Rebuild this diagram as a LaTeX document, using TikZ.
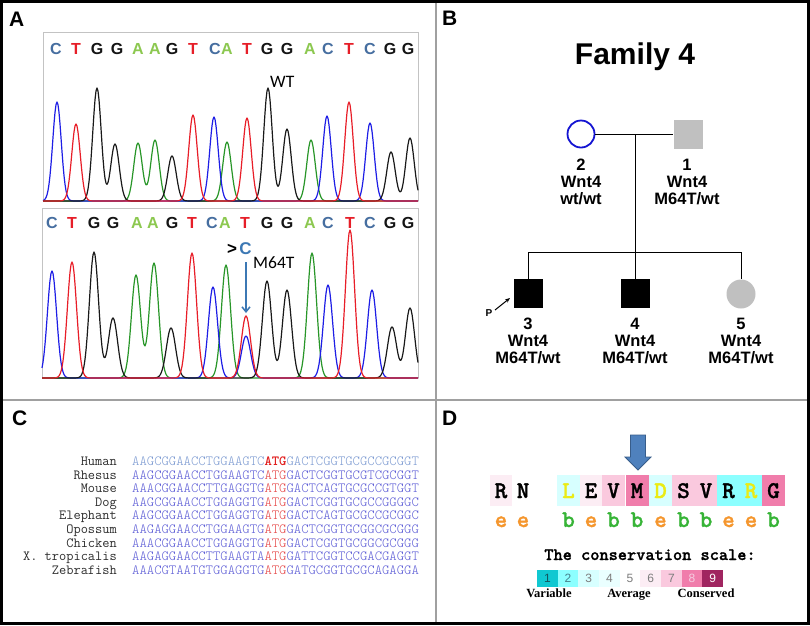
\documentclass[tikz,border=0pt]{standalone}
\usepackage{fontspec}
\newfontfamily\arial{Liberation Sans}
\newfontfamily\tnr{Liberation Serif}
\newfontfamily\calib{Carlito}
\newfontfamily\monobold{lmmonolt10-bold.otf}[FakeBold=1.2]
\usetikzlibrary{arrows.meta}

\definecolor{seqC}{RGB}{70,110,160}
\definecolor{seqT}{RGB}{230,30,40}
\definecolor{seqG}{RGB}{20,20,20}
\definecolor{seqA}{RGB}{140,200,80}
\definecolor{trB}{RGB}{30,30,230}
\definecolor{trR}{RGB}{232,30,40}
\definecolor{trK}{RGB}{25,25,25}
\definecolor{trG}{RGB}{40,150,40}
\definecolor{mutblue}{RGB}{60,120,180}
\definecolor{pedblue}{RGB}{20,20,210}
\definecolor{pedgray}{RGB}{192,192,192}
\definecolor{divgray}{RGB}{160,160,160}
\definecolor{boxgray}{RGB}{195,195,195}
\definecolor{humblue}{RGB}{125,155,210}
\definecolor{seqblue}{RGB}{95,95,215}
\definecolor{atgred}{RGB}{230,70,70}
\definecolor{atgbold}{RGB}{225,30,30}
\definecolor{namegray}{RGB}{45,45,45}
\definecolor{cs1}{HTML}{10C8D1}
\definecolor{cs2}{HTML}{8CFFFF}
\definecolor{cs3}{HTML}{D7FFFF}
\definecolor{cs4}{HTML}{EAFFFF}
\definecolor{cs5}{HTML}{FFFFFF}
\definecolor{cs6}{HTML}{FCEDF4}
\definecolor{cs7}{HTML}{FAC9DE}
\definecolor{cs8}{HTML}{F07DAB}
\definecolor{cs9}{HTML}{A02560}
\definecolor{resyellow}{RGB}{235,235,20}
\definecolor{eorange}{RGB}{245,150,45}
\definecolor{bgreen}{RGB}{55,180,55}
\definecolor{arrowfill}{RGB}{79,129,189}
\definecolor{arrowedge}{RGB}{56,93,138}
\definecolor{num1}{RGB}{20,85,95}
\definecolor{num2}{RGB}{70,130,140}
\definecolor{numg}{RGB}{125,125,125}
\definecolor{num8}{RGB}{245,205,225}

\tikzset{
  panellabel/.style={font=\arial\bfseries\fontsize{21}{21}\selectfont, anchor=base west, inner sep=0pt},
  seqletter/.style={font=\arial\bfseries\fontsize{16}{16}\selectfont, anchor=base, inner sep=0pt},
  trace/.style={line width=1.2pt, line join=round},
  chrombox/.style={draw=boxgray, line width=0.8pt},
  callout/.style={font=\calib\fontsize{17.5}{17.5}\selectfont, anchor=base west, inner sep=0pt},
  pedline/.style={line width=0.9pt},
  pedlab/.style={font=\arial\bfseries\fontsize{16.5}{17}\selectfont, align=center, anchor=north, inner sep=0pt},
  specname/.style={font=\fontfamily{lmtt}\fontseries{m}\fontsize{14}{14}\selectfont, text=namegray, anchor=base east, inner sep=0pt},
  seqtext/.style={font=\fontfamily{lmtt}\fontseries{l}\fontsize{14}{14}\selectfont, anchor=base west, inner sep=0pt},
  residue/.style={font=\monobold\fontsize{24}{24}\selectfont, anchor=base, inner sep=0pt},
  burial/.style={font=\monobold\fontsize{24}{24}\selectfont, anchor=base, inner sep=0pt},
  scaletitle/.style={font=\monobold\fontsize{17.5}{17.5}\selectfont, anchor=base, inner sep=0pt},
  scalenum/.style={font=\arial\fontsize{12}{12}\selectfont, inner sep=0pt},
  scalelab/.style={font=\tnr\bfseries\fontsize{12.5}{12.5}\selectfont, anchor=base, inner sep=0pt}
}

\begin{document}
\begin{tikzpicture}[x=1pt,y=-1pt,
  declare function={
    gu(\t,\c)=exp(-min(((\t-\c)/6)*((\t-\c)/6),9));
    gl(\t,\c)=exp(-min(((\t-\c)/6.5)*((\t-\c)/6.5),9));
  }]
\useasboundingbox (0,0) rectangle (810,625);
\fill[white] (0,0) rectangle (810,625);

% ---------------- dividers and frame
\draw[divgray, line width=1.5pt] (436,0) -- (436,625);
\draw[divgray, line width=1.5pt] (0,400) -- (810,400);
\draw[black, line width=3pt] (1.5,1.5) rectangle (808.5,623.5);

% ---------------- panel labels
\node[panellabel] (labA) at (9,26) {A};
\node[panellabel] (labB) at (442,25) {B};
\node[panellabel] (labC) at (12,425) {C};
\node[panellabel] (labD) at (442,425) {D};

% ---------------- panel A : chromatogram boxes
\draw[chrombox] (43,201) -- (43,32) -- (418,32) -- (418,201);
\draw[chrombox] (42,378) -- (42,208) -- (418,208) -- (418,378);

% upper sequence letters
\foreach \x/\l [count=\i] in {56/C,76/T,97/G,117/G,138/A,155/A,172/G,193/T,215/C,227/A,247/T,267/G,287/G,310/A,328/C,349/T,370/C,390/G,408/G}
  \node[seqletter, text=seq\l] (ua\i) at (\x,54) {\l};
% lower sequence letters
\foreach \x/\l [count=\i] in {52/C,72/T,94/G,113/G,137/A,153/A,172/G,192/T,212/C,225/A,245/T,267/G,287/G,310/A,328/C,350/T,370/C,390/G,408/G}
  \node[seqletter, text=seq\l] (la\i) at (\x,228) {\l};

% upper traces (baseline 201)
\draw[trace, trG] plot[domain=43:418, samples=376] (\x,{201-58*gu(\x,138)-61*gu(\x,155)-59*gu(\x,227)-61*gu(\x,311)});
\draw[trace, trB] plot[domain=43:418, samples=376] (\x,{201-99*gu(\x,57)-84*gu(\x,214)-85*gu(\x,327)-78*gu(\x,370)});
\draw[trace, trK] plot[domain=43:418, samples=376] (\x,{201-113*gu(\x,97)-57*gu(\x,115)-45*gu(\x,172)-113*gu(\x,268)-72*gu(\x,287)-49*gu(\x,391)-63*gu(\x,410)});
\draw[trace, trR] plot[domain=43:418, samples=376] (\x,{201-77*gu(\x,76)-86*gu(\x,193)-83*gu(\x,247)-99*gu(\x,349)});

% lower traces (baseline 378)
\draw[trace, trG] plot[domain=42:418, samples=377] (\x,{378-103*gl(\x,136)-115*gl(\x,154)-113*gl(\x,226)-125*gl(\x,312)});
\draw[trace, trB] plot[domain=42:418, samples=377] (\x,{378-107*gl(\x,52)-91*gl(\x,213)-42*gl(\x,246)-93*gl(\x,328)-88*gl(\x,372)});
\draw[trace, trK] plot[domain=42:418, samples=377] (\x,{378-126*gl(\x,94)-60*gl(\x,113)-50*gl(\x,171)-97*gl(\x,267)-88*gl(\x,287)-51*gl(\x,392)-70*gl(\x,410)});
\draw[trace, trR] plot[domain=42:418, samples=377] (\x,{378-116*gl(\x,72)-125*gl(\x,192)-62*gl(\x,246)-148*gl(\x,350)});

% annotations
\node[callout] (wt) at (270,87) {WT};
\node[font=\arial\bfseries\fontsize{17}{17}\selectfont, anchor=base, inner sep=0pt] (gt) at (232,254) {>};
\node[font=\arial\bfseries\fontsize{17}{17}\selectfont, anchor=base, inner sep=0pt, text=mutblue] (mutC) at (245.5,254) {C};
\node[callout] (m64t) at (253,268) {M64T};
\coordinate (peakT) at (246,313);
\draw[mutblue, line width=1.5pt, -{Straight Barb[length=5pt,width=8pt]}] (246,262) -- (peakT);

% ---------------- panel B : pedigree
\node[font=\arial\bfseries\fontsize{30}{30}\selectfont, anchor=base, inner sep=0pt] (title) at (635,64) {Family 4};
\node[circle, draw=pedblue, line width=1.8pt, minimum size=27pt, inner sep=0pt] (p2) at (581,134) {};
\node[rectangle, fill=pedgray, minimum size=29pt, inner sep=0pt] (p1) at (688,134) {};
\coordinate (mate) at (635,134);
\coordinate (sib) at (635,252);
\node[rectangle, fill=black, minimum size=29pt, inner sep=0pt] (p3) at (528,293.5) {};
\node[rectangle, fill=black, minimum size=29pt, inner sep=0pt] (p4) at (635,293.5) {};
\node[circle, fill=pedgray, minimum size=29pt, inner sep=0pt] (p5) at (741,294) {};
\draw[pedline] (p2.east) -- (p1.west);
\draw[pedline] (mate) -- (sib);
\draw[pedline] (p3.north) -- (p3.north |- sib) -- (p5.north |- sib) -- (p5.north);
\draw[pedline] (sib) -- (p4.north);

\node[pedlab] (l2) at (581,158.5) {2\\Wnt4\\wt/wt};
\node[pedlab] (l1) at (687,158.5) {1\\Wnt4\\M64T/wt};
\node[pedlab] (l3) at (528,317.5) {3\\Wnt4\\M64T/wt};
\node[pedlab] (l4) at (635,317.5) {4\\Wnt4\\M64T/wt};
\node[pedlab] (l5) at (741,317.5) {5\\Wnt4\\M64T/wt};

\node[font=\arial\bfseries\fontsize{10}{10}\selectfont, inner sep=0pt] (plab) at (489,313) {P};
\coordinate (ptip) at (510,298);
\draw[line width=1pt, -{Stealth[length=5pt,width=4pt]}] (495,310) -- (ptip);

% ---------------- panel C : alignment
\node[specname] (n0) at (117,465.5) {Human};
\node[seqtext] (s0) at (132,465.5) {\color{humblue}AAGCGGAACCTGGAAGTC{\color{atgbold}\fontseries{b}\selectfont ATG}GACTCGGTGCGCCGCGGT};
\foreach \n/\a/\b [count=\i] in {
  Rhesus/AAGCGGAACCTGGAAGTC/GACTCGGTGCGTCGCGGT,
  Mouse/AAACGGAACCTTGAGGTG/GACTCAGTGCGCCGTGGT,
  Dog/AAGCGGAACCTGGAGGTG/GACTCGGTGCGCCGGGGC,
  Elephant/AAGCGGAACCTGGAGGTG/GACTCAGTGCGCCGCGGC,
  Opossum/AAGAGGAACCTGGAAGTG/GACTCGGTGCGGCGCGGG,
  Chicken/AAACGGAACCTGGAGGTG/GACTCGGTGCGGCGCGGG,
  X. tropicalis/AAGAGGAACCTTGAAGTA/GATTCGGTCCGACGAGGT,
  Zebrafish/AAACGTAATGTGGAGGTG/GATGCGGTGCGCAGAGGA}
{
  \pgfmathsetmacro\yy{465.5+13.6*\i}
  \node[specname] (n\i) at (117,\yy) {\n};
  \node[seqtext] (s\i) at (132,\yy) {\color{seqblue}\a{\color{atgred}ATG}\b};
}

% ---------------- panel D : conservation
\fill[arrowfill, draw=arrowedge, line width=0.8pt] (630.5,435) -- (645.5,435) -- (645.5,457) -- (651,457) -- (638,470) -- (625,457) -- (630.5,457) -- cycle;

\foreach \x/\l/\bg/\fg [count=\i] in {
  501/R/cs6/black, 523/N/cs5/black, 568.5/L/cs3/resyellow, 591/E/cs6/black,
  613.5/V/cs7/black, 637/M/cs8/black, 660.5/D/cs3/resyellow, 683.5/S/cs7/black,
  706/V/cs7/black, 728.5/R/cs2/black, 751/R/cs2/resyellow, 773.5/G/cs8/black}
{
  \fill[\bg] (\x-11.5,475) rectangle (\x+11.5,506);
  \node[residue, text=\fg] (r\i) at (\x,498) {\l};
}
\foreach \x/\l/\c [count=\i] in {
  501/e/eorange, 523/e/eorange, 568.5/b/bgreen, 591/e/eorange, 613.5/b/bgreen,
  637/b/bgreen, 660.5/e/eorange, 683.5/b/bgreen, 706/b/bgreen, 728.5/e/eorange,
  751/e/eorange, 773.5/b/bgreen}
  \node[burial, text=\c] (e\i) at (\x,527) {\l};

\node[scaletitle] (stitle) at (650,560) {The conservation scale:};
\foreach \i/\tc in {1/num1,2/num2,3/numg,4/numg,5/numg,6/numg,7/numg,8/num8,9/white}
{
  \pgfmathsetmacro\xa{537+(\i-1)*20.67}
  \fill[cs\i] (\xa,570) rectangle (\xa+20.67,587);
  \node[scalenum, text=\tc] (c\i) at (\xa+10.33,578.5) {\i};
}
\node[scalelab] (var) at (549,597) {Variable};
\node[scalelab] (avg) at (629,597) {Average};
\node[scalelab] (con) at (706,597) {Conserved};
\end{tikzpicture}
\end{document}
